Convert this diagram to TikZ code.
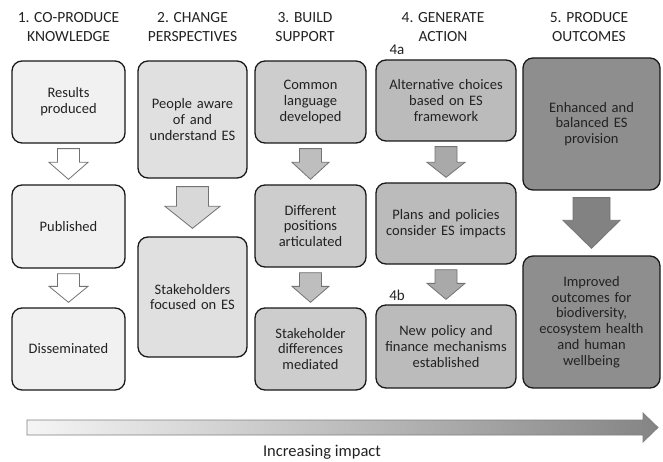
\documentclass[tikz,border=0pt]{standalone}
\usepackage{fontspec}
\setmainfont{Carlito}
\usetikzlibrary{calc}
\definecolor{txt}{HTML}{222222}
\definecolor{cA}{HTML}{F1F1F1}
\definecolor{cB}{HTML}{E0E0E0}
\definecolor{cC}{HTML}{CDCDCD}
\definecolor{cD}{HTML}{BBBBBB}
\definecolor{cE}{HTML}{8E8E8E}
\definecolor{aA}{HTML}{FFFFFF}
\definecolor{aB}{HTML}{D8D8D8}
\definecolor{aC}{HTML}{BEBEBE}
\definecolor{aD}{HTML}{A9A9A9}
\definecolor{aE}{HTML}{828282}
\newcommand\blockarr[7]{%
  \draw[#6] ($(#1.south)+(-#3,#7)$) -- ($(#1.south)+(#3,#7)$)
    -- ($(#2.north)+(#3,-#7-#5)$) -- ($(#2.north)+(#4,-#7-#5)$)
    -- ($(#2.north)+(0,-#7)$) -- ($(#2.north)+(-#4,-#7-#5)$)
    -- ($(#2.north)+(-#3,-#7-#5)$) -- cycle;}
\begin{document}
\begin{tikzpicture}[x=1pt,y=-1pt,
  box/.style={draw=black!90, line width=1.3pt, rounded corners=10pt, align=center,
    inner sep=2pt, text=txt, font=\fontsize{14.5}{15.8}\selectfont},
  hdr/.style={align=center, text=txt, font=\fontsize{15.5}{18.5}\selectfont},
  lab/.style={text=txt, font=\fontsize{15}{17}\selectfont},
  barr/.style={draw=black!55, line width=0.8pt, line join=miter}]
\useasboundingbox (0,0) rectangle (663,462);
% headers
\node[hdr] (h1) at (68.5,27) {1. CO-PRODUCE\\KNOWLEDGE};
\node[hdr] (h2) at (192.5,27) {2. CHANGE\\PERSPECTIVES};
\node[hdr] (h3) at (305,27) {3. BUILD\\SUPPORT};
\node[hdr] (h4) at (443,27) {4. GENERATE\\ACTION};
\node[hdr] (h5) at (589,27) {5. PRODUCE\\OUTCOMES};
% column 1
\node[box, fill=cA, minimum width=113pt, minimum height=82pt, text width=105pt] (a1) at (68.5,102) {Results\\produced};
\node[box, fill=cA, minimum width=113pt, minimum height=83pt, text width=105pt] (a2) at (68.5,226.5) {Published};
\node[box, fill=cA, minimum width=113pt, minimum height=82pt, text width=105pt] (a3) at (68.5,349) {Disseminated};
% column 2
\node[box, fill=cB, minimum width=109pt, minimum height=117pt, text width=101pt] (b1) at (192.5,119.5) {People aware\\of and\\understand ES};
\node[box, fill=cB, minimum width=109pt, minimum height=120pt, text width=101pt] (b2) at (192.5,297) {Stakeholders\\focused on ES};
% column 3
\node[box, fill=cC, minimum width=111pt, minimum height=82pt, text width=103pt] (c1) at (310.5,102) {Common\\language\\developed};
\node[box, fill=cC, minimum width=111pt, minimum height=82pt, text width=103pt] (c2) at (310.5,226) {Different\\positions\\articulated};
\node[box, fill=cC, minimum width=111pt, minimum height=82pt, text width=103pt] (c3) at (310.5,349) {Stakeholder\\differences\\mediated};
% column 4
\node[box, fill=cD, minimum width=140pt, minimum height=81pt, text width=132pt] (d1) at (446,100.5) {Alternative choices\\based on ES\\framework};
\node[box, fill=cD, minimum width=140pt, minimum height=81pt, text width=132pt] (d2) at (446,223.5) {Plans and policies\\consider ES impacts};
\node[box, fill=cD, minimum width=140pt, minimum height=83pt, text width=132pt] (d3) at (446,346.5) {New policy and\\finance mechanisms\\established};
\node[lab] (l4a) at (397,50) {4a};
\node[lab] (l4b) at (397,295) {4b};
% column 5
\node[box, fill=cE, minimum width=137pt, minimum height=132pt, text width=129pt] (e1) at (591.5,124) {Enhanced and\\balanced ES\\provision};
\node[box, fill=cE, minimum width=137pt, minimum height=132pt, text width=129pt] (e2) at (591.5,322) {Improved\\outcomes for\\biodiversity,\\ecosystem health\\and human\\wellbeing};
% block arrows
\blockarr{a1}{a2}{11}{19.5}{17}{barr, fill=aA}{5}
\blockarr{a2}{a3}{11}{19.5}{16}{barr, fill=aA}{5}
\blockarr{b1}{b2}{16}{27.5}{22}{barr, fill=aB}{8}
\blockarr{c1}{c2}{11}{18.5}{17}{barr, fill=aC}{5}
\blockarr{c2}{c3}{11}{18.5}{16}{barr, fill=aC}{5}
\blockarr{d1}{d2}{11}{19}{15}{barr, fill=aD}{5}
\blockarr{d2}{d3}{11}{19}{16}{barr, fill=aD}{5}
\blockarr{e1}{e2}{18.5}{28.5}{28}{barr, fill=aE}{7}
% impact arrow
\shade[left color=black!4, right color=black!48, draw=black!50, line width=0.8pt]
  (27,420) -- (643,420) -- (643,413) -- (658,427.5) -- (643,442) -- (643,435) -- (27,435) -- cycle;
\node[lab, font=\fontsize{16.5}{19}\selectfont] (imp) at (322,452) {Increasing impact};
\end{tikzpicture}
\end{document}
